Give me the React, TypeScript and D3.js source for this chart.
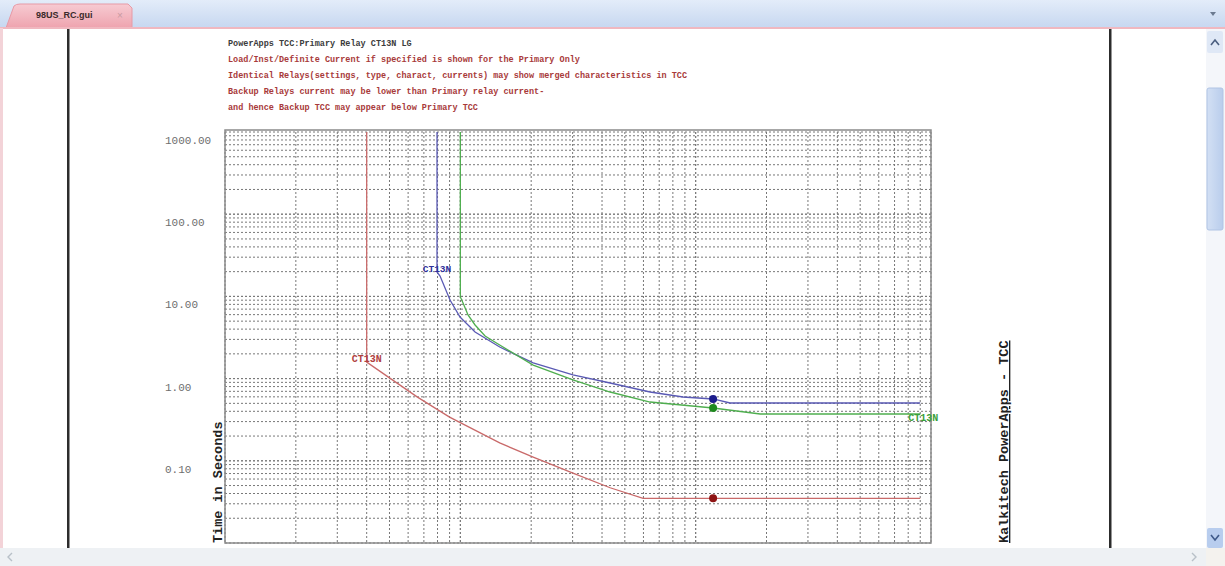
import React from "react";
import * as d3 from "d3";

// Relay characteristic data: operating current (multiples) vs. operating time (s)
const redCurrent = [4.0, 4.0, 5.0, 6.55, 9.0, 14.7, 20.4, 30.1, 43.3, 59.8, 900];
const redTime = [1000, 1.59, 1.02, 0.6, 0.34, 0.165, 0.111, 0.071, 0.047, 0.035, 0.035];

const blueCurrent = [7.96, 7.96, 8.2, 9.04, 9.97, 11.55, 14.7, 20.4, 30.1, 43.3, 64, 88.4, 118.6, 140, 900];
const blueTime = [1000, 19.8, 17.7, 9.04, 5.61, 3.69, 2.42, 1.55, 1.11, 0.884, 0.687, 0.597, 0.565, 0.505, 0.505];

const greenCurrent = [10.0, 10.0, 10.27, 10.78, 11.55, 12.74, 14.7, 20.4, 30.1, 43.3, 64, 118.6, 188, 900];
const greenTime = [1000, 9.84, 8.3, 5.94, 4.49, 3.3, 2.56, 1.46, 0.962, 0.687, 0.519, 0.439, 0.371, 0.371];

// Fault operating points
const faultCurrent = [118.6, 118.6, 118.6];
const faultTime = [0.035, 0.565, 0.439];

const curveLabels = ["CT13N", "CT13N", "CT13N"];

const yTickValues = [1000, 100, 10, 1, 0.1, 0.01];
const yTickLabels = ["1000.00", "100.00", "10.00", "1.00", "0.10", "0.01"];

const headerLines = [
  "PowerApps TCC:Primary Relay CT13N LG",
  "Load/Inst/Definite Current if specified is shown for the Primary Only",
  "Identical Relays(settings, type, charact, currents) may show merged characteristics in TCC",
  "Backup Relays current may be lower than Primary relay current-",
  "and hence Backup TCC may appear below Primary TCC",
];

const W = 1225;
const H = 566;
const plot = { left: 225, right: 931, top: 132, bottom: 543 };
const mono = "'Liberation Mono', 'DejaVu Sans Mono', monospace";

export default function App() {
  const x = d3.scaleLog().domain([1, 1000]).range([plot.left, plot.right]);
  const y = d3.scaleLog().domain([0.01, 1000]).range([plot.bottom, plot.top]);

  const line = d3
    .line<[number, number]>()
    .x((d) => x(d[0]))
    .y((d) => y(d[1]));

  const zip = (a: number[], b: number[]) => a.map((v, i) => [v, b[i]] as [number, number]);

  const series = [
    { pts: zip(redCurrent, redTime), color: "#c96a6a", dot: "#8e1414" },
    { pts: zip(blueCurrent, blueTime), color: "#5a5ab4", dot: "#1c1c8c" },
    { pts: zip(greenCurrent, greenTime), color: "#4fae4f", dot: "#1e8a1e" },
  ];

  // grid values: 1..9 multiples per decade
  const xGrid: number[] = [];
  for (let dec = 1; dec < 1000; dec *= 10) for (let m = 1; m <= 10; m++) xGrid.push(dec * m);
  const yGrid: number[] = [];
  for (let dec = 0.01; dec < 999; dec *= 10) for (let m = 1; m <= 10; m++) yGrid.push(+(dec * m).toPrecision(3));

  return (
    <div style={{ position: "fixed", left: 0, top: 0, width: W, height: H, overflow: "hidden", background: "#fff" }}>
      <svg width={W} height={H} style={{ display: "block" }}>
        <defs>
          <linearGradient id="bar" x1="0" y1="0" x2="0" y2="1">
            <stop offset="0" stopColor="#e3ecf9" />
            <stop offset="1" stopColor="#c6d7f0" />
          </linearGradient>
          <linearGradient id="tab" x1="0" y1="0" x2="0" y2="1">
            <stop offset="0" stopColor="#f7cbd2" />
            <stop offset="1" stopColor="#eea3ae" />
          </linearGradient>
          <linearGradient id="thumb" x1="0" y1="0" x2="1" y2="0">
            <stop offset="0" stopColor="#d3e0f4" />
            <stop offset="1" stopColor="#b9cdec" />
          </linearGradient>
        </defs>

        {/* tab strip */}
        <rect x={0} y={0} width={W} height={28} fill="url(#bar)" />
        <path d="M6,28 L14,6 Q16,4 20,4 L128,4 L132,8 L132,28 Z" fill="url(#tab)" stroke="#e79aa6" />
        <text x={36} y={18} fontFamily="Arial, 'Liberation Sans', sans-serif" fontSize={9} fontWeight="bold" fill="#3a2a2a">
          98US_RC.gui
        </text>
        <text x={117} y={19} fontFamily="Arial, sans-serif" fontSize={10} fill="#c99aa2">
          ×
        </text>
        <path d="M1210,12 L1216,12 L1213,16 Z" fill="#6b7a90" />
        <rect x={0} y={27} width={W} height={2} fill="#f0b8c0" />
        <rect x={0} y={28} width={3} height={H - 28} fill="#f3d3d8" />

        {/* page margin rules */}
        <rect x={67} y={29} width={2.5} height={520} fill="#2c2c2c" />
        <rect x={1109} y={29} width={2.5} height={520} fill="#2c2c2c" />

        {/* header text */}
        {headerLines.map((t, i) => (
          <text
            key={i}
            x={228}
            y={46 + i * 16}
            fontFamily={mono}
            fontSize={8.5}
            fontWeight="bold"
            fill={i === 0 ? "#3c3c3c" : "#a83a3a"}
          >
            {t}
          </text>
        ))}

        {/* grid */}
        <g stroke="#6a6a6a" strokeWidth={1} strokeDasharray="2,2" opacity={0.9}>
          {xGrid.map((v, i) => (
            <line key={"gx" + i} x1={x(v)} x2={x(v)} y1={plot.top} y2={plot.bottom} />
          ))}
          {yGrid.map((v, i) => (
            <line key={"gy" + i} x1={plot.left} x2={plot.right} y1={y(v)} y2={y(v)} />
          ))}
        </g>
        <rect
          x={plot.left}
          y={plot.top - 2}
          width={plot.right - plot.left}
          height={plot.bottom - plot.top + 2}
          fill="none"
          stroke="#8a8a8a"
          strokeWidth={1.5}
        />

        {/* y tick labels */}
        {yTickValues.map((v, i) => (
          <text key={"yt" + i} x={165} y={y(v) + 12} fontFamily={mono} fontSize={11} fill="#6e6e6e">
            {yTickLabels[i]}
          </text>
        ))}

        {/* characteristics */}
        {series.map((s, i) => (
          <path key={"c" + i} d={line(s.pts) || ""} fill="none" stroke={s.color} strokeWidth={1.3} />
        ))}
        {series.map((s, i) => (
          <circle key={"d" + i} cx={x(faultCurrent[i])} cy={y(faultTime[i])} r={4} fill={s.dot} />
        ))}

        {/* curve labels */}
        <text x={x(redCurrent[1])} y={y(redTime[1])} textAnchor="middle" fontFamily={mono} fontSize={10} fontWeight="bold" fill="#b04040">
          {curveLabels[0]}
        </text>
        <text x={x(blueCurrent[1])} y={y(blueTime[1])} textAnchor="middle" fontFamily={mono} fontSize={9.5} fontWeight="bold" fill="#2f2f9a">
          {curveLabels[1]}
        </text>
        <text
          x={x(greenCurrent[greenCurrent.length - 1]) - 12}
          y={y(greenTime[greenTime.length - 1]) + 7}
          fontFamily={mono}
          fontSize={10}
          fontWeight="bold"
          fill="#3aa03a"
        >
          {curveLabels[2]}
        </text>

        {/* axis titles */}
        <text
          transform="translate(222,543) rotate(-90)"
          fontFamily={mono}
          fontSize={13.5}
          fontWeight="bold"
          fill="#222"
        >
          Time in Seconds
        </text>
        <text
          transform="translate(1008,543) rotate(-90)"
          fontFamily={mono}
          fontSize={13.5}
          fontWeight="bold"
          fill="#222"
          textDecoration="underline"
        >
          Kalkitech PowerApps - TCC
        </text>

        {/* vertical scrollbar */}
        <rect x={1206} y={29} width={19} height={520} fill="#f4f6fa" />
        <rect x={1207} y={31} width={16} height={22} rx={2} fill="#dfe8f6" />
        <path d="M1211,45 L1215,40 L1219,45" fill="none" stroke="#4b5f80" strokeWidth={1.6} />
        <rect x={1207} y={88} width={16} height={142} rx={2} fill="url(#thumb)" stroke="#b0c4e4" />
        <rect x={1207} y={528} width={16} height={20} rx={2} fill="#b8cdee" />
        <path d="M1211,535 L1215,540 L1219,535" fill="none" stroke="#3f5a8a" strokeWidth={1.6} />

        {/* horizontal scrollbar */}
        <rect x={0} y={548} width={W} height={18} fill="#eef1f4" />
        <path d="M12,553 L8,557 L12,561" fill="none" stroke="#b8c0c8" strokeWidth={1.4} />
        <path d="M1192,553 L1196,557 L1192,561" fill="none" stroke="#b8c0c8" strokeWidth={1.4} />
        <rect x={1206} y={548} width={19} height={18} fill="#f4f2ee" />
      </svg>
    </div>
  );
}
